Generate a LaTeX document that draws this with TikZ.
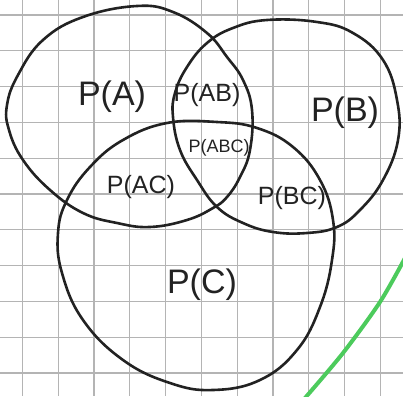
\documentclass[tikz,border=0pt]{standalone}
\usepackage{fontspec}
\setmainfont{Liberation Sans}
\usetikzlibrary{positioning}
\definecolor{gridGray}{HTML}{B4B4B4}
\definecolor{penInk}{HTML}{222222}
\definecolor{markerGreen}{HTML}{4CCB5C}

\begin{document}
\begin{tikzpicture}[
    x=1pt, y=-1pt,
    setline/.style={
        draw=penInk,
        line width=2.6pt,
        line join=round
    },
    biglabel/.style={
        font=\fontsize{34}{38}\selectfont,
        text=penInk,
        inner sep=0pt
    },
    midlabel/.style={
        font=\fontsize{25}{28}\selectfont,
        text=penInk,
        inner sep=0pt
    },
    smalllabel/.style={
        font=\fontsize{18}{20}\selectfont,
        text=penInk,
        inner sep=0pt
    }
]
\useasboundingbox (0,0) rectangle (403,396);
\fill[white] (0,0) rectangle (403,396);

% Grid paper
\foreach \k in {0,...,10} {
    \draw[gridGray, line width=1.2pt] ({22.3+35.8*\k},0) -- ({22.3+35.8*\k},396);
    \draw[gridGray, line width=1.2pt] (0,{15+35.8*\k}) -- (403,{15+35.8*\k});
}

% Set A
\draw[setline] plot[smooth cycle, tension=0.7] coordinates {
    (137,6) (173,12) (207,33) (227,57) (243,80) (252,110) (250,150)
    (240,177) (227,197) (213,208) (187,220) (150,227) (117,223)
    (83,213) (50,190) (23,160) (9,130) (7,105) (18,75) (43,40) (83,17)
};

% Set B
\draw[setline] plot[smooth cycle, tension=0.7] coordinates {
    (267,20) (233,28) (207,43) (187,67) (175,93) (173,117) (180,150)
    (197,180) (217,207) (243,223) (273,232) (307,233) (337,227)
    (360,210) (383,180) (398,140) (397,100) (383,60) (353,33) (317,22)
};

% Set C
\draw[setline] plot[smooth cycle, tension=0.7] coordinates {
    (167,123) (217,122) (257,128) (293,147) (320,180) (333,220)
    (332,260) (320,307) (297,350) (260,380) (213,390) (170,383)
    (123,360) (83,320) (62,273) (58,233) (67,200) (90,167) (123,140)
};

% Green marker stroke
\draw[markerGreen, line width=4pt] plot[smooth] coordinates {
    (305,398) (343,353) (380,302) (405,258)
};

% Labels
\node[biglabel] (pa) at (112,97) {P(A)};
\node[midlabel] (pab) at (207,95) {P(AB)};
\node[biglabel] (pb) at (345,113) {P(B)};
\node[smalllabel] (pabc) at (219,148) {P(ABC)};
\node[midlabel] (pac) at (141,187) {P(AC)};
\node[midlabel] (pbc) at (292,198) {P(BC)};
\node[biglabel] (pc) at (202,285) {P(C)};

\end{tikzpicture}
\end{document}
